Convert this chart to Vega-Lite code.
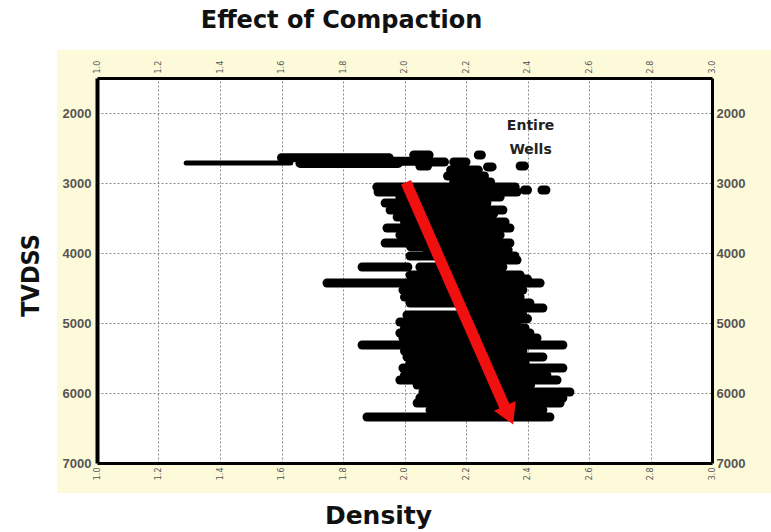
{
  "$schema": "https://vega.github.io/schema/vega-lite/v6.json",
  "width": 615,
  "height": 385,
  "autosize": {"type": "none"},
  "padding": {"left": 97, "top": 78, "right": 59, "bottom": 69},
  "background": "white",
  "config": {
    "view": {"stroke": null, "fill": "white"},
    "axis": {"ticks": false, "domainColor": "black", "domainWidth": 3, "gridColor": "#8a8a8a", "gridDash": [2, 2], "gridWidth": 1}
  },
  "title": {"text": "Effect of Compaction", "font": "DejaVu Sans", "fontSize": 24, "fontWeight": "bold", "color": "#111111", "anchor": "middle", "dx": -63, "offset": 17},
  "datasets": {
    "frame": [{}],
    "streaks": [
      {"depth": 2640, "d1": 1.60, "d2": 1.95},
      {"depth": 2720, "d1": 1.66, "d2": 1.98},
      {"depth": 2690, "d1": 1.95, "d2": 2.07},
      {"depth": 2600, "d1": 2.03, "d2": 2.08},
      {"depth": 2757, "d1": 2.05, "d2": 2.075},
      {"depth": 2700, "d1": 2.09, "d2": 2.13},
      {"depth": 2700, "d1": 2.16, "d2": 2.20},
      {"depth": 2600, "d1": 2.24, "d2": 2.25},
      {"depth": 2770, "d1": 2.27, "d2": 2.285},
      {"depth": 2757, "d1": 2.376, "d2": 2.39},
      {"depth": 2814, "d1": 2.15, "d2": 2.24},
      {"depth": 2900, "d1": 2.14, "d2": 2.26},
      {"depth": 2986, "d1": 2.16, "d2": 2.28},
      {"depth": 3057, "d1": 1.91, "d2": 2.36},
      {"depth": 3100, "d1": 2.39, "d2": 2.40},
      {"depth": 3100, "d1": 2.447, "d2": 2.46},
      {"depth": 3129, "d1": 1.914, "d2": 2.366},
      {"depth": 3200, "d1": 1.985, "d2": 2.311},
      {"depth": 3286, "d1": 1.937, "d2": 2.268},
      {"depth": 3386, "d1": 1.953, "d2": 2.32},
      {"depth": 3440, "d1": 2.03, "d2": 2.29},
      {"depth": 3486, "d1": 1.976, "d2": 2.245},
      {"depth": 3557, "d1": 2.0, "d2": 2.327},
      {"depth": 3643, "d1": 1.943, "d2": 2.343},
      {"depth": 3700, "d1": 2.05, "d2": 2.30},
      {"depth": 3743, "d1": 1.985, "d2": 2.311},
      {"depth": 3857, "d1": 1.937, "d2": 2.343},
      {"depth": 3910, "d1": 2.02, "d2": 2.32},
      {"depth": 3957, "d1": 2.073, "d2": 2.337},
      {"depth": 4043, "d1": 2.018, "d2": 2.359},
      {"depth": 4100, "d1": 2.115, "d2": 2.366},
      {"depth": 4200, "d1": 1.862, "d2": 2.011},
      {"depth": 4200, "d1": 2.05, "d2": 2.32},
      {"depth": 4314, "d1": 2.018, "d2": 2.376},
      {"depth": 4370, "d1": 2.06, "d2": 2.40},
      {"depth": 4429, "d1": 1.748, "d2": 2.441},
      {"depth": 4529, "d1": 1.995, "d2": 2.385},
      {"depth": 4629, "d1": 2.0, "d2": 2.376},
      {"depth": 4714, "d1": 2.018, "d2": 2.408},
      {"depth": 4786, "d1": 2.19, "d2": 2.45},
      {"depth": 4886, "d1": 2.008, "d2": 2.385},
      {"depth": 4940, "d1": 2.05, "d2": 2.40},
      {"depth": 4986, "d1": 1.985, "d2": 2.366},
      {"depth": 5071, "d1": 2.0, "d2": 2.392},
      {"depth": 5143, "d1": 1.985, "d2": 2.408},
      {"depth": 5214, "d1": 1.995, "d2": 2.431},
      {"depth": 5314, "d1": 1.862, "d2": 2.515},
      {"depth": 5400, "d1": 2.0, "d2": 2.385},
      {"depth": 5486, "d1": 2.008, "d2": 2.45},
      {"depth": 5571, "d1": 2.018, "d2": 2.392},
      {"depth": 5643, "d1": 1.995, "d2": 2.515},
      {"depth": 5743, "d1": 2.0, "d2": 2.463},
      {"depth": 5814, "d1": 1.985, "d2": 2.496},
      {"depth": 5886, "d1": 2.041, "d2": 2.41},
      {"depth": 5986, "d1": 2.06, "d2": 2.538},
      {"depth": 6071, "d1": 2.05, "d2": 2.515},
      {"depth": 6143, "d1": 2.041, "d2": 2.506},
      {"depth": 6243, "d1": 2.083, "d2": 2.45},
      {"depth": 6343, "d1": 1.878, "d2": 2.473}
    ],
    "thin": [
      {"depth": 2714, "d1": 1.29, "d2": 1.63}
    ],
    "arrow": [
      {"x1": 2.005, "y1": 2990, "x2": 2.335, "y2": 6290, "hx": 2.34, "hy": 6318}
    ],
    "note": [
      {"d": 2.41, "depth": 2186, "label": "Entire\nWells"}
    ]
  },
  "resolve": {"axis": {"x": "independent", "y": "independent"}},
  "layer": [
    {
      "data": {"name": "frame"},
      "mark": {"type": "rect", "color": "#fdfad9"},
      "encoding": {
        "x": {"datum": 0.87, "type": "quantitative", "scale": {"domain": [1, 3], "nice": false, "zero": false}, "axis": null},
        "x2": {"datum": 3.2},
        "y": {"datum": 1100, "type": "quantitative", "scale": {"domain": [1500, 7000], "nice": false, "zero": false, "reverse": true}, "axis": null},
        "y2": {"datum": 1500}
      }
    },
    {
      "data": {"name": "frame"},
      "mark": {"type": "rect", "color": "#fdfad9"},
      "encoding": {
        "x": {"datum": 0.87, "type": "quantitative", "scale": {"domain": [1, 3], "nice": false, "zero": false}, "axis": null},
        "x2": {"datum": 3.2},
        "y": {"datum": 7000, "type": "quantitative", "scale": {"domain": [1500, 7000], "nice": false, "zero": false, "reverse": true}, "axis": null},
        "y2": {"datum": 7430}
      }
    },
    {
      "data": {"name": "frame"},
      "mark": {"type": "rect", "color": "#fdfad9"},
      "encoding": {
        "x": {"datum": 0.87, "type": "quantitative", "scale": {"domain": [1, 3], "nice": false, "zero": false}, "axis": null},
        "x2": {"datum": 1.0},
        "y": {"datum": 1500, "type": "quantitative", "scale": {"domain": [1500, 7000], "nice": false, "zero": false, "reverse": true}, "axis": null},
        "y2": {"datum": 7000}
      }
    },
    {
      "data": {"name": "frame"},
      "mark": {"type": "rect", "color": "#fdfad9"},
      "encoding": {
        "x": {"datum": 3.0, "type": "quantitative", "scale": {"domain": [1, 3], "nice": false, "zero": false}, "axis": null},
        "x2": {"datum": 3.2},
        "y": {"datum": 1500, "type": "quantitative", "scale": {"domain": [1500, 7000], "nice": false, "zero": false, "reverse": true}, "axis": null},
        "y2": {"datum": 7000}
      }
    },
    {
      "data": {"name": "thin"},
      "mark": {"type": "rule", "color": "black", "strokeWidth": 5, "strokeCap": "round"},
      "encoding": {
        "x": {"field": "d1", "type": "quantitative", "scale": {"domain": [1, 3], "nice": false, "zero": false},
          "axis": {"orient": "bottom", "values": [1, 1.2, 1.4, 1.6, 1.8, 2, 2.2, 2.4, 2.6, 2.8, 3], "grid": true, "labels": false, "domain": false, "ticks": false, "title": null, "maxExtent": 0, "minExtent": 0, "zindex": 0}},
        "x2": {"field": "d2"},
        "y": {"field": "depth", "type": "quantitative", "scale": {"domain": [1500, 7000], "nice": false, "zero": false, "reverse": true},
          "axis": {"orient": "left", "values": [2000, 3000, 4000, 5000, 6000, 7000], "grid": true, "labels": false, "domain": false, "ticks": false, "title": null, "maxExtent": 0, "minExtent": 0, "zindex": 0}}
      }
    },
    {
      "data": {"name": "streaks"},
      "mark": {"type": "rule", "color": "black", "strokeWidth": 9, "strokeCap": "round"},
      "encoding": {
        "x": {"field": "d1", "type": "quantitative", "scale": {"domain": [1, 3], "nice": false, "zero": false},
          "axis": {"orient": "bottom", "values": [1, 1.2, 1.4, 1.6, 1.8, 2, 2.2, 2.4, 2.6, 2.8, 3], "format": ".1f", "labelAngle": -90, "labelFontSize": 8, "labelColor": "#555555", "labelFont": "DejaVu Sans", "labelPadding": 4, "grid": false, "zindex": 1,
            "title": "Density", "titleFont": "DejaVu Sans", "titleFontSize": 25, "titleFontWeight": "bold", "titleColor": "#111111", "titleX": 281, "titleY": 60, "titleBaseline": "alphabetic", "titleAlign": "center"}},
        "x2": {"field": "d2"},
        "y": {"field": "depth", "type": "quantitative", "scale": {"domain": [1500, 7000], "nice": false, "zero": false, "reverse": true},
          "axis": {"orient": "left", "values": [2000, 3000, 4000, 5000, 6000, 7000], "format": "d", "labelFont": "Liberation Sans", "labelFontWeight": "bold", "labelFontSize": 13, "labelColor": "#555555", "labelPadding": 6, "grid": false, "domainWidth": 4, "zindex": 1,
            "title": "TVDSS", "titleFont": "Liberation Sans Narrow, DejaVu Sans Condensed, sans-serif", "titleFontSize": 25, "titleFontWeight": "bold", "titleColor": "#111111", "titleAngle": -90, "titleX": -67, "titleY": 197, "titleAlign": "center", "titleBaseline": "middle"}}
      }
    },
    {
      "data": {"name": "arrow"},
      "mark": {"type": "rule", "color": "#f01010", "strokeWidth": 11},
      "encoding": {
        "x": {"field": "x1", "type": "quantitative", "scale": {"domain": [1, 3], "nice": false, "zero": false},
          "axis": {"orient": "top", "values": [1, 1.2, 1.4, 1.6, 1.8, 2, 2.2, 2.4, 2.6, 2.8, 3], "format": ".1f", "labelAngle": -90, "labelFontSize": 8, "labelColor": "#555555", "labelFont": "DejaVu Sans", "labelPadding": 5, "grid": false, "title": null, "zindex": 1}},
        "x2": {"field": "x2"},
        "y": {"field": "y1", "type": "quantitative", "scale": {"domain": [1500, 7000], "nice": false, "zero": false, "reverse": true},
          "axis": {"orient": "right", "values": [2000, 3000, 4000, 5000, 6000, 7000], "format": "d", "labelFont": "Liberation Sans", "labelFontWeight": "bold", "labelFontSize": 13, "labelColor": "#555555", "labelPadding": 4, "grid": false, "title": null, "zindex": 1}},
        "y2": {"field": "y2"}
      }
    },
    {
      "data": {"name": "arrow"},
      "mark": {"type": "point", "shape": "triangle-down", "filled": true, "color": "#f01010", "size": 560, "angle": 336, "opacity": 1},
      "encoding": {
        "x": {"field": "hx", "type": "quantitative", "scale": {"domain": [1, 3], "nice": false, "zero": false}, "axis": null},
        "y": {"field": "hy", "type": "quantitative", "scale": {"domain": [1500, 7000], "nice": false, "zero": false, "reverse": true}, "axis": null}
      }
    },
    {
      "data": {"name": "note"},
      "mark": {"type": "text", "font": "DejaVu Sans", "fontSize": 14, "fontWeight": "bold", "color": "#222222", "lineBreak": "\n", "lineHeight": 24, "align": "center", "baseline": "middle"},
      "encoding": {
        "x": {"field": "d", "type": "quantitative", "scale": {"domain": [1, 3], "nice": false, "zero": false}, "axis": null},
        "y": {"field": "depth", "type": "quantitative", "scale": {"domain": [1500, 7000], "nice": false, "zero": false, "reverse": true}, "axis": null},
        "text": {"field": "label"}
      }
    }
  ]
}
